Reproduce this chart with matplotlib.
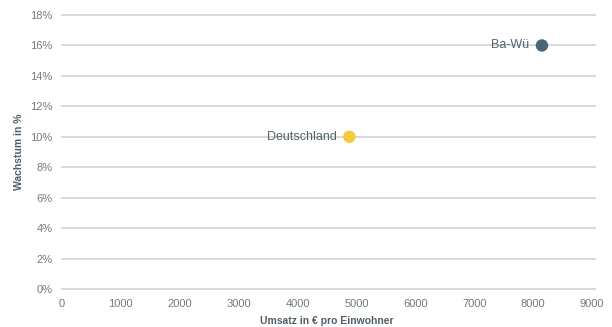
import matplotlib
matplotlib.use("Agg")
import matplotlib.pyplot as plt
from matplotlib.ticker import FuncFormatter

plt.rcParams['font.family'] = ['Liberation Sans', 'DejaVu Sans']

regions = ["Deutschland", "Ba-Wü"]
umsatz = [4880, 8150]
wachstum = [10, 16]
colors = ["#F9C93C", "#4A6674"]

x_ticks = list(range(0, 9001, 1000))
y_ticks = list(range(0, 19, 2))

fig = plt.figure(figsize=(6.12, 3.27), dpi=100)
ax = fig.add_axes([62 / 612, 1 - 289 / 327, 530 / 612, 274 / 327])

for y in y_ticks:
    ax.axhline(y, color="#d6d6d6", lw=1.3, zorder=1, xmin=0, xmax=1.006, clip_on=False)

ax.scatter(umsatz, wachstum, s=80, c=colors, zorder=3, edgecolors="none")
for name, x, y in zip(regions, umsatz, wachstum):
    ax.annotate(name, (x, y), xytext=(-9, 0), textcoords="offset points",
                ha="right", va="center", fontsize=9, color="#54646e", zorder=4)

ax.set_xlim(0, 9000)
ax.set_ylim(0, 18)
ax.set_xticks(x_ticks)
ax.set_yticks(y_ticks)
ax.yaxis.set_major_formatter(FuncFormatter(lambda v, p: f"{v:.0f}%"))
ax.tick_params(length=0, labelsize=8, labelcolor="#707a80")
ax.tick_params(axis="x", pad=7)
ax.tick_params(axis="y", pad=7)
for s in ax.spines.values():
    s.set_visible(False)

ax.set_xlabel("Umsatz in € pro Einwohner", fontsize=7.5, fontweight="bold",
              color="#4e5f6a", labelpad=5)
ax.set_ylabel("Wachstum in %", fontsize=7.5, fontweight="bold",
              color="#4e5f6a", labelpad=4)

fig.savefig("out.png", dpi=100)
